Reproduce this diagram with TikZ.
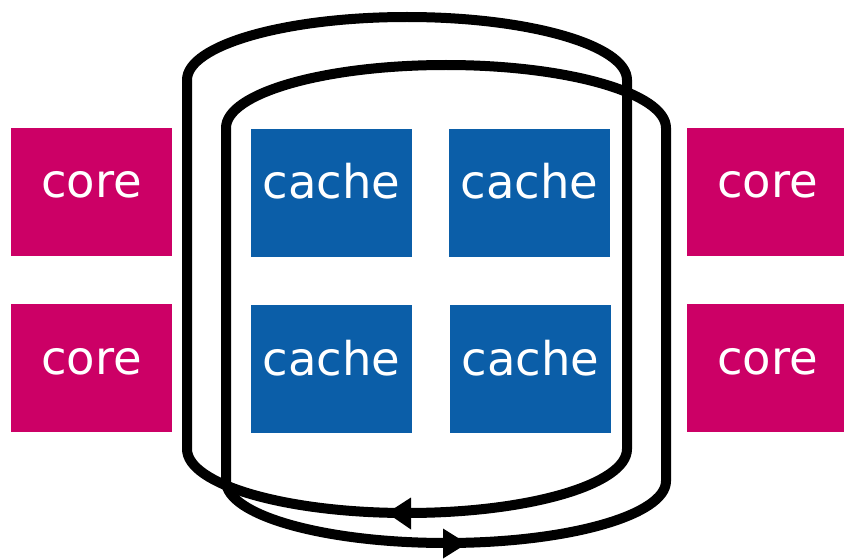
\documentclass[tikz,border=0pt]{standalone}
\usepackage{fontspec}
\setmainfont{DejaVu Sans}
\definecolor{coremag}{RGB}{204,0,102}
\definecolor{cacheblue}{RGB}{11,94,168}
\begin{document}
\begin{tikzpicture}[x=1pt,y=-1pt,
  blockbase/.style={anchor=north west, inner sep=0pt, outer sep=0pt,
    text=white, font=\fontsize{46.5}{46.5}\selectfont,
    text height=24pt, text depth=12pt, align=center},
  corebox/.style={blockbase, fill=coremag, minimum width=161pt, minimum height=128pt},
  cachebox/.style={blockbase, fill=cacheblue, minimum width=161pt, minimum height=128pt},
  ring/.style={line width=10pt, draw=black},
  tip/.style={fill=black}]
\clip (0,0) rectangle (844,559);

% processor cores on both sides
\node[corebox] (c1) at (11,128) {core};
\node[corebox] (c2) at (11,304) {core};
\node[corebox] (c3) at (687,128) {core};
\node[corebox] (c4) at (687,304) {core};

% shared cache slices
\node[cachebox] (k1) at (251,129) {cache};
\node[cachebox] (k2) at (449,129) {cache};
\node[cachebox] (k3) at (251,305) {cache};
\node[cachebox] (k4) at (450,305) {cache};

% first ring (runs leftward along the bottom)
\draw[ring] (187,80) arc[start angle=180, end angle=360, x radius=220, y radius=63]
  -- (627,449) arc[start angle=0, end angle=180, x radius=220, y radius=64] -- cycle;
\fill[tip] (387,513) -- (411,497.5) -- (411,529.5) -- cycle;

% second ring (runs rightward along the bottom)
\draw[ring] (226,128) arc[start angle=180, end angle=360, x radius=220, y radius=63]
  -- (666,481) arc[start angle=0, end angle=180, x radius=220, y radius=62] -- cycle;
\fill[tip] (467,543.5) -- (443,528.5) -- (443,558.5) -- cycle;
\end{tikzpicture}
\end{document}
